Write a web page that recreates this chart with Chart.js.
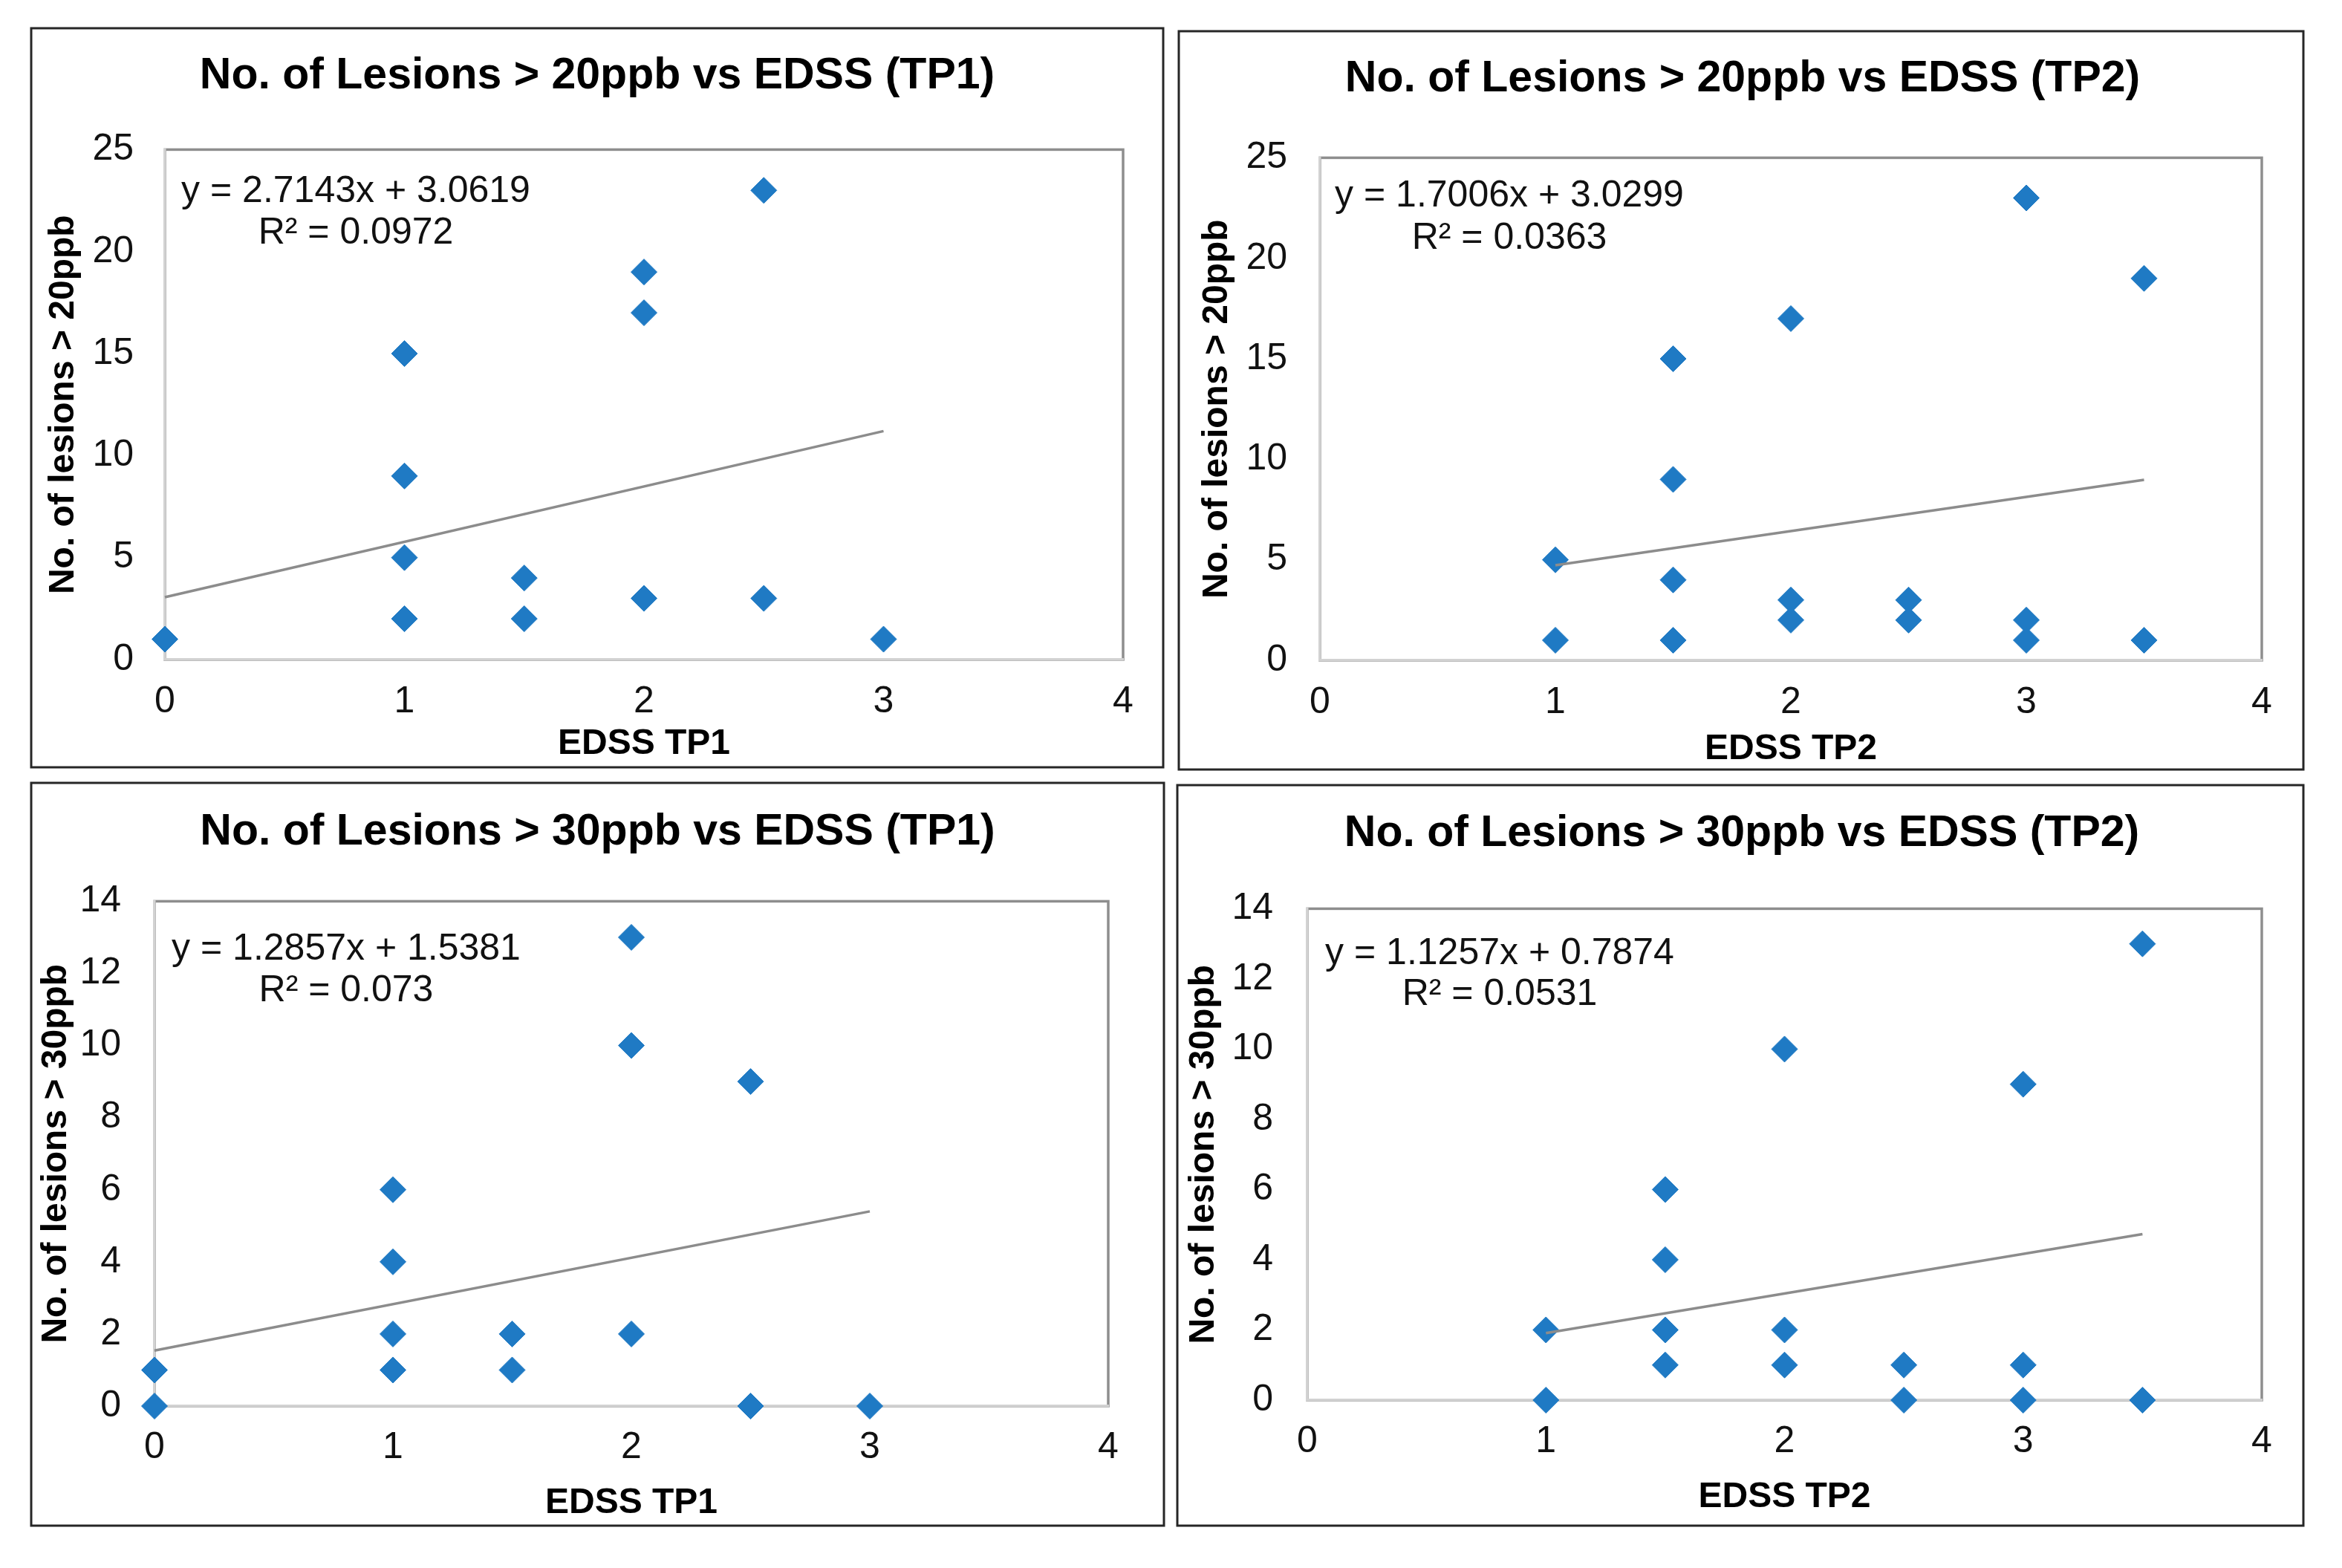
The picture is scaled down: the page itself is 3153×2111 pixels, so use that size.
<!DOCTYPE html>
<html>
<head>
<meta charset="utf-8">
<script src="https://cdn.jsdelivr.net/npm/chart.js@4.4.1/dist/chart.umd.min.js"></script>
<style>
  html, body { margin: 0; padding: 0; background: #ffffff; width: 3153px; height: 2111px; overflow: hidden; position: relative; }
  canvas { position: absolute; }
</style>
</head>
<body>
<canvas id="c0"></canvas>
<canvas id="c1"></canvas>
<canvas id="c2"></canvas>
<canvas id="c3"></canvas>
<script>
// ---------------- DATA ----------------
const chartTitles = [
  'No. of Lesions > 20ppb vs EDSS (TP1)',
  'No. of Lesions > 20ppb vs EDSS (TP2)',
  'No. of Lesions > 30ppb vs EDSS (TP1)',
  'No. of Lesions > 30ppb vs EDSS (TP2)'
];
const xTitles = ['EDSS TP1', 'EDSS TP2', 'EDSS TP1', 'EDSS TP2'];
const yTitles = ['No. of lesions > 20ppb', 'No. of lesions > 20ppb', 'No. of lesions > 30ppb', 'No. of lesions > 30ppb'];

const xTicks = [0, 1, 2, 3, 4];
const yTicks20 = [0, 5, 10, 15, 20, 25];
const yTicks30 = [0, 2, 4, 6, 8, 10, 12, 14];

// Panel 1: > 20ppb vs EDSS TP1
const edssTP1_20 = [0, 1, 1, 1, 1, 1.5, 1.5, 2, 2, 2, 2.5, 2.5, 3];
const lesions20_TP1 = [1, 15, 9, 5, 2, 4, 2, 19, 17, 3, 23, 3, 1];
// Panel 2: > 20ppb vs EDSS TP2
const edssTP2_20 = [1, 1, 1.5, 1.5, 1.5, 1.5, 2, 2, 2, 2.5, 2.5, 3, 3, 3, 3.5, 3.5];
const lesions20_TP2 = [5, 1, 15, 9, 4, 1, 17, 3, 2, 3, 2, 23, 2, 1, 19, 1];
// Panel 3: > 30ppb vs EDSS TP1
const edssTP1_30 = [0, 0, 1, 1, 1, 1, 1.5, 1.5, 2, 2, 2, 2.5, 2.5, 3];
const lesions30_TP1 = [1, 0, 6, 4, 2, 1, 2, 1, 13, 10, 2, 9, 0, 0];
// Panel 4: > 30ppb vs EDSS TP2
const edssTP2_30 = [1, 1, 1.5, 1.5, 1.5, 1.5, 2, 2, 2, 2.5, 2.5, 3, 3, 3, 3.5, 3.5];
const lesions30_TP2 = [2, 0, 6, 4, 2, 1, 10, 2, 1, 1, 0, 9, 1, 0, 13, 0];

// Linear trendline end points
const trend20_TP1_x = [0, 3];     const trend20_TP1_y = [3.06, 11.20];
const trend20_TP2_x = [1, 3.5];   const trend20_TP2_y = [4.73, 8.98];
const trend30_TP1_x = [0, 3];     const trend30_TP1_y = [1.54, 5.40];
const trend30_TP2_x = [1, 3.5];   const trend30_TP2_y = [1.91, 4.73];

const equations = ['y = 2.7143x + 3.0619', 'y = 1.7006x + 3.0299', 'y = 1.2857x + 1.5381', 'y = 1.1257x + 0.7874'];
const rSquared = ['R\u00B2 = 0.0972', 'R\u00B2 = 0.0363', 'R\u00B2 = 0.073', 'R\u00B2 = 0.0531'];

// ---------------- STYLE / LAYOUT ----------------
const FAMILY = "'Liberation Sans', Arial, Helvetica, sans-serif";
const MARKER = 'rgb(31,122,196)';
const TREND = '#8C8C8C';

const series = [
  { xs: edssTP1_20, ys: lesions20_TP1, tx: trend20_TP1_x, ty: trend20_TP1_y, yMax: 25, yTicks: yTicks20 },
  { xs: edssTP2_20, ys: lesions20_TP2, tx: trend20_TP2_x, ty: trend20_TP2_y, yMax: 25, yTicks: yTicks20 },
  { xs: edssTP1_30, ys: lesions30_TP1, tx: trend30_TP1_x, ty: trend30_TP1_y, yMax: 14, yTicks: yTicks30 },
  { xs: edssTP2_30, ys: lesions30_TP2, tx: trend30_TP2_x, ty: trend30_TP2_y, yMax: 14, yTicks: yTicks30 }
];

const layouts = [
  { left: 40,   top: 36,   w: 1528, h: 999,  pl: 0, yAxisW: 182, rightW: 56, tPt: 31.2, tPb: 63.4, xAxisH: 147, xTitlePb: 4.2,  yTitlePt: 16.7, yTickPad: 42, xTickPad: 27,   eqDx: 257, eqDy: [71, 127] },
  { left: 1585, top: 40,   w: 1518, h: 998,  pl: 4, yAxisW: 188, rightW: 58, tPt: 31.2, tPb: 70.4, xAxisH: 149, xTitlePb: 0.2,  yTitlePt: 20.7, yTickPad: 44, xTickPad: 27.5, eqDx: 255, eqDy: [66, 123] },
  { left: 40,   top: 1052, w: 1529, h: 1004, pl: 0, yAxisW: 168, rightW: 77, tPt: 33.2, tPb: 57.4, xAxisH: 163, xTitlePb: 3.2,  yTitlePt: 7.2,  yTickPad: 45, xTickPad: 26,   eqDx: 258, eqDy: [79, 135] },
  { left: 1583, top: 1055, w: 1520, h: 1001, pl: 4, yAxisW: 173, rightW: 58, tPt: 32.2, tPb: 65.4, xAxisH: 171, xTitlePb: 11.2, yTitlePt: 5.2,  yTickPad: 46, xTickPad: 26.5, eqDx: 259, eqDy: [75, 130] }
];

const framePlugin = {
  id: 'frame',
  beforeDraw(chart) {
    const { ctx, chartArea: ca, width, height } = chart;
    ctx.save();
    ctx.fillStyle = '#ffffff';
    ctx.fillRect(0, 0, width, height);
    // panel border
    ctx.strokeStyle = '#262626';
    ctx.lineWidth = 3;
    ctx.strokeRect(2, 2, width - 4, height - 4);
    // plot-area border
    ctx.strokeStyle = '#8E8E8E';
    ctx.lineWidth = 3.5;
    ctx.strokeRect(ca.left, ca.top, ca.right - ca.left, ca.bottom - ca.top);
    ctx.restore();
  }
};

const eqPlugin = {
  id: 'eq',
  afterDraw(chart, args, o) {
    const { ctx, chartArea: ca } = chart;
    ctx.save();
    ctx.font = '50px ' + FAMILY;
    ctx.fillStyle = '#111111';
    ctx.textAlign = 'center';
    ctx.textBaseline = 'alphabetic';
    o.lines.forEach((t, i) => ctx.fillText(t, ca.left + o.dx, ca.top + o.dy[i]));
    ctx.restore();
  }
};

series.forEach((s, i) => {
  const L = layouts[i];
  const cv = document.getElementById('c' + i);
  cv.width = L.w; cv.height = L.h;
  cv.style.left = L.left + 'px'; cv.style.top = L.top + 'px';
  cv.style.width = L.w + 'px'; cv.style.height = L.h + 'px';

  const points = s.xs.map((x, k) => ({ x: x, y: s.ys[k] }));
  const trend = s.tx.map((x, k) => ({ x: x, y: s.ty[k] }));

  new Chart(cv, {
    type: 'scatter',
    data: {
      datasets: [
        {
          label: 'Trend', type: 'line', data: trend, xAxisID: 'x', yAxisID: 'y',
          borderColor: TREND, borderWidth: 3.5, pointRadius: 0, fill: false, showLine: true, clip: false
        },
        {
          label: 'Lesions', data: points, xAxisID: 'x', yAxisID: 'y',
          pointStyle: 'rectRot', pointRadius: 17.5, pointHoverRadius: 17.5,
          backgroundColor: MARKER, borderColor: MARKER, borderWidth: 1, clip: false
        }
      ]
    },
    options: {
      responsive: false,
      animation: false,
      devicePixelRatio: 1,
      events: [],
      layout: { padding: { left: L.pl, right: 0, top: 0, bottom: 0 } },
      plugins: {
        legend: { display: false },
        tooltip: { enabled: false },
        title: {
          display: true, text: chartTitles[i], color: '#000000',
          font: { family: FAMILY, size: 59, weight: 'bold' },
          padding: { top: L.tPt, bottom: L.tPb }
        },
        eq: { lines: [equations[i], rSquared[i]], dx: L.eqDx, dy: L.eqDy }
      },
      scales: {
        x: {
          type: 'linear', position: 'bottom', min: 0, max: 4,
          afterBuildTicks: (sc) => { sc.ticks = xTicks.map(v => ({ value: v })); },
          afterFit: (sc) => { sc.height = L.xAxisH; },
          grid: { display: false, drawTicks: false, tickLength: 0 },
          border: { display: true, color: '#D2D2D2', width: 3.5 },
          ticks: { padding: L.xTickPad, color: '#111111', font: { family: FAMILY, size: 50 }, maxRotation: 0, autoSkip: false },
          title: { display: true, text: xTitles[i], color: '#000000', font: { family: FAMILY, size: 48, weight: 'bold' }, padding: { top: 0, bottom: L.xTitlePb } }
        },
        y: {
          type: 'linear', position: 'left', min: 0, max: s.yMax,
          afterBuildTicks: (sc) => { sc.ticks = s.yTicks.map(v => ({ value: v })); },
          afterFit: (sc) => { sc.width = L.yAxisW; },
          grid: { display: false, drawTicks: false, tickLength: 0 },
          border: { display: true, color: '#D2D2D2', width: 3.5 },
          ticks: { padding: L.yTickPad, color: '#111111', font: { family: FAMILY, size: 50 }, autoSkip: false },
          title: { display: true, text: yTitles[i], color: '#000000', font: { family: FAMILY, size: 48, weight: 'bold' }, padding: { top: L.yTitlePt, bottom: 0 } }
        },
        yR: {
          type: 'linear', position: 'right', display: true,
          afterFit: (sc) => { sc.width = L.rightW; },
          grid: { display: false, drawTicks: false },
          border: { display: false },
          ticks: { display: false },
          title: { display: false }
        }
      }
    },
    plugins: [framePlugin, eqPlugin]
  });
});
</script>
</body>
</html>
